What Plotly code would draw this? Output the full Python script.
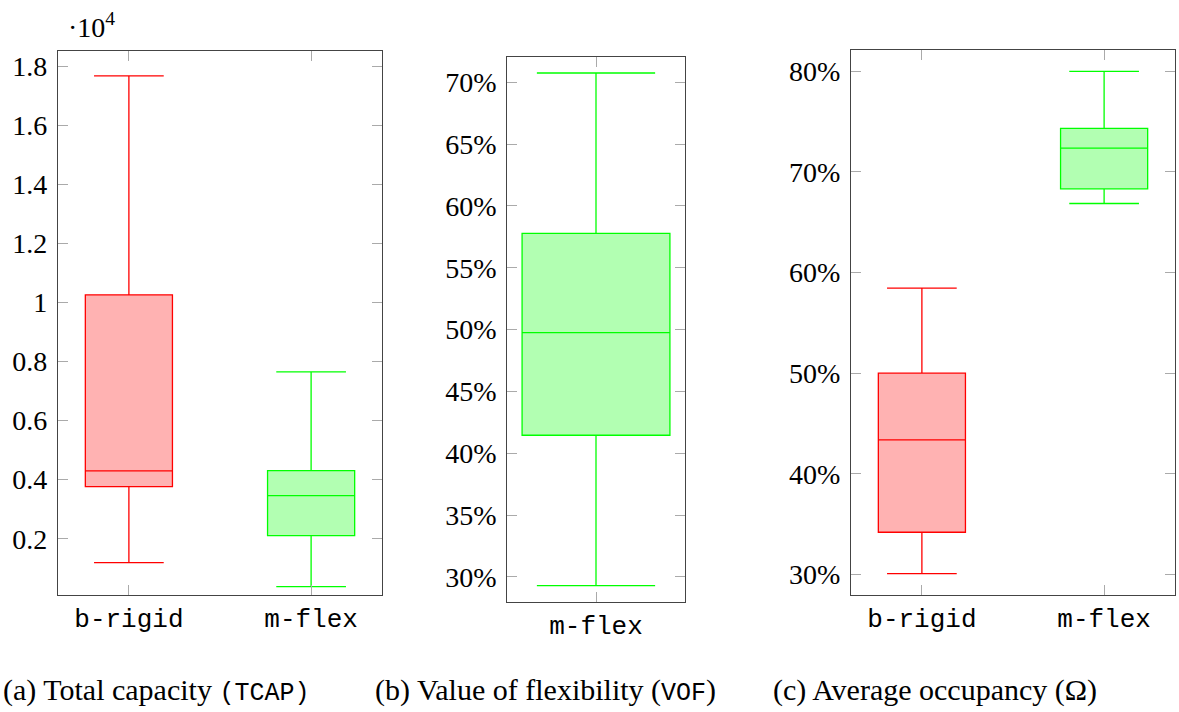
import plotly.graph_objects as go

# ---------------- data ----------------
cats_a = ["b-rigid", "m-flex"]
tcap_lower = [1188, 376]
tcap_q1 = [3763, 2102]
tcap_median = [4294, 3459]
tcap_q3 = [10257, 4305]
tcap_upper = [17670, 7648]
tcap_tickvals = [2000, 4000, 6000, 8000, 10000, 12000, 14000, 16000, 18000]
tcap_ticktext = ["0.2", "0.4", "0.6", "0.8", "1", "1.2", "1.4", "1.6", "1.8"]

cats_b = ["m-flex"]
vof_lower = [29.30]
vof_q1 = [41.46]
vof_median = [49.76]
vof_q3 = [57.78]
vof_upper = [70.75]
vof_tickvals = [30, 35, 40, 45, 50, 55, 60, 65, 70]
vof_ticktext = ["30%", "35%", "40%", "45%", "50%", "55%", "60%", "65%", "70%"]

cats_c = ["b-rigid", "m-flex"]
occ_lower = [30.1, 66.85]
occ_q1 = [34.21, 68.31]
occ_median = [43.38, 72.35]
occ_q3 = [50.0, 74.30]
occ_upper = [58.45, 79.97]
occ_tickvals = [30, 40, 50, 60, 70, 80]
occ_ticktext = ["30%", "40%", "50%", "60%", "70%", "80%"]

W, H = 1179, 712
SERIF = "Liberation Serif"
MONO = "Liberation Mono"

captions = [
    "(a) Total capacity <span style='font-family:" + MONO + "; font-size:25px'>(TCAP)</span>",
    "(b) Value of flexibility (<span style='font-family:" + MONO + "; font-size:25px'>VOF</span>)",
    "(c) Average occupancy (Ω)",
]

line_colors = {"b-rigid": "#ff0000", "m-flex": "#00ff00"}
fill_colors = {"b-rigid": "rgba(255,0,0,0.3)", "m-flex": "rgba(0,255,0,0.3)"}

fig = go.Figure()


def add_boxes(cats, lo, q1, med, q3, up, xa, ya, width):
    for i, c in enumerate(cats):
        fig.add_trace(go.Box(
            x=[c], lowerfence=[lo[i]], q1=[q1[i]], median=[med[i]], q3=[q3[i]],
            upperfence=[up[i]], boxpoints=False, width=width, whiskerwidth=0.8,
            line=dict(color=line_colors[c], width=1.3), fillcolor=fill_colors[c],
            xaxis=xa, yaxis=ya, showlegend=False, hoverinfo="skip"))


add_boxes(cats_a, tcap_lower, tcap_q1, tcap_median, tcap_q3, tcap_upper, "x", "y", 0.478)
add_boxes(cats_b, vof_lower, vof_q1, vof_median, vof_q3, vof_upper, "x2", "y2", 0.5)
add_boxes(cats_c, occ_lower, occ_q1, occ_median, occ_q3, occ_upper, "x3", "y3", 0.478)


def px_x(a, b):
    return [a / W, b / W]


def px_y(top, bottom):
    return [1 - bottom / H, 1 - top / H]


common_axis = dict(showline=True, linecolor="#444444", linewidth=1.3, mirror="ticks",
                   ticks="inside", ticklen=10, tickcolor="#aaaaaa", tickwidth=1.3,
                   showgrid=False, zeroline=False, fixedrange=True)
xfont = dict(family=MONO, size=26, color="#000000")
yfont = dict(family=SERIF, size=28, color="#000000")

fig.update_layout(
    width=W, height=H, margin=dict(l=0, r=0, t=0, b=0),
    paper_bgcolor="white", plot_bgcolor="white", showlegend=False,
    xaxis=dict(domain=px_x(58, 382), anchor="y", type="category",
               range=[-0.389, 1.389], tickfont=xfont, **common_axis),
    yaxis=dict(domain=px_y(51, 595), anchor="x", range=[95, 18510],
               tickvals=tcap_tickvals, ticktext=tcap_ticktext, tickfont=yfont,
               ticklabelstandoff=4, **common_axis),
    xaxis2=dict(domain=px_x(507.3, 684.7), anchor="y2", type="category",
                range=[-0.3, 0.3], tickfont=xfont, **common_axis),
    yaxis2=dict(domain=px_y(57.3, 601.7), anchor="x2", range=[28.0, 72.02],
                tickvals=vof_tickvals, ticktext=vof_ticktext, tickfont=yfont,
                ticklabelstandoff=4, **common_axis),
    xaxis3=dict(domain=px_x(851, 1175), anchor="y3", type="category",
                range=[-0.389, 1.389], tickfont=xfont, **common_axis),
    yaxis3=dict(domain=px_y(50.3, 595), anchor="x3", range=[27.98, 82.06],
                tickvals=occ_tickvals, ticktext=occ_ticktext, tickfont=yfont,
                ticklabelstandoff=4, **common_axis),
)

# exponent label
fig.add_annotation(text="·10<sup>4</sup>", x=66 / W, y=1 - 25 / H, xref="paper", yref="paper",
                   xanchor="left", yanchor="middle", showarrow=False,
                   font=dict(family=SERIF, size=28, color="#000000"))

caption_x = [1, 373, 771]
for i, cap in enumerate(captions):
    fig.add_annotation(text=cap, x=caption_x[i] / W, y=1 - 690 / H, xref="paper", yref="paper",
                       xanchor="left", yanchor="middle", showarrow=False,
                       font=dict(family=SERIF, size=30, color="#000000"))

fig.write_html("out.html", config={"displayModeBar": False},
               post_script="document.body.style.margin='0px';document.body.style.overflow='hidden';")
